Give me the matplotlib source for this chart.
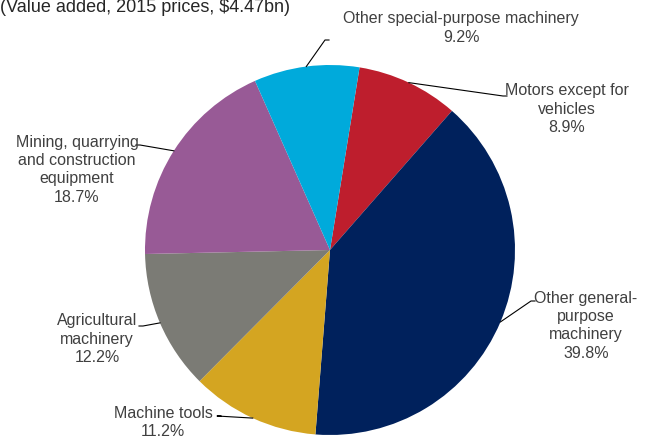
import numpy as np
import matplotlib
matplotlib.use("Agg")
import matplotlib.pyplot as plt

plt.rcParams['font.family'] = ['Liberation Sans', 'DejaVu Sans']

# Shares of value added, clockwise from the top
categories = ["Motors except for\nvehicles",
              "Other general-\npurpose\nmachinery",
              "Machine tools",
              "Agricultural\nmachinery",
              "Mining, quarrying\nand construction\nequipment",
              "Other special-purpose machinery"]
shares = [8.9, 39.8, 11.2, 12.2, 18.7, 9.2]
colors = ["#BE1E2D", "#00215C", "#D4A521", "#7B7B75", "#985A96", "#00AADB"]
title = "(Value added, 2015 prices, $4.47bn)"

W, H = 650, 436
fig = plt.figure(figsize=(W / 100, H / 100), dpi=100)
ax = fig.add_axes([0, 0, 1, 1])

cx, cy, r = 330, H - 250, 185
start = 80.8
wedges, _ = ax.pie(shares, colors=colors, startangle=start, counterclock=False,
                   center=(cx, cy), radius=r, wedgeprops=dict(linewidth=0))

# label centre (x, first line y) and leader-line elbow, in pixel units from the top-left
label_pos = [(567, 91), (586, 298), (163, 413), (97, 321), (77, 142), (461, 19)]
elbows = [(503, 96), (531, 301), (217, 416), (143, 326), (140, 145), (325, 40)]
elbow_dir = [1, 1, 1, -1, -1, 1]
line_step = 18.4

fs = 11.5
for i, (name, v) in enumerate(zip(categories, shares)):
    w = wedges[i]
    mid = np.deg2rad((w.theta1 + w.theta2) / 2)
    px, py = cx + r * np.cos(mid), cy + r * np.sin(mid)
    ex, ey = elbows[i]
    ey = H - ey
    ax.plot([px, ex, ex + 4 * elbow_dir[i]], [py, ey, ey], color="black", lw=0.8)
    lx, ly = label_pos[i]
    lines = name.split("\n") + [f"{v:.1f}%"]
    for j, line in enumerate(lines):
        ax.text(lx, H - (ly + j * line_step), line, ha="center", va="center",
                fontsize=fs, color="#404040")

ax.text(0, H - 8, title, ha="left", va="center", fontsize=13, color="#262626")

ax.set_xlim(0, W)
ax.set_ylim(0, H)
ax.set_aspect("auto")
ax.axis("off")
fig.savefig("out.png", dpi=100)
